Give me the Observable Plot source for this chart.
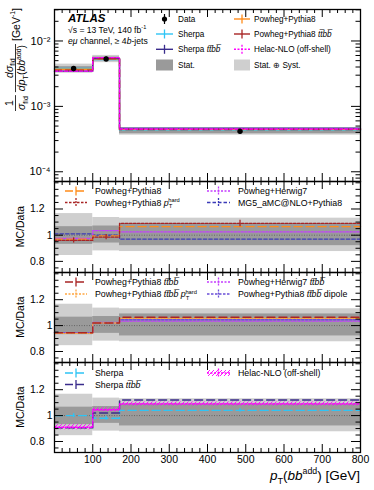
<!DOCTYPE html>
<html><head><meta charset="utf-8">
<script src="https://cdn.jsdelivr.net/npm/d3@7"></script>
<script src="https://cdn.jsdelivr.net/npm/@observablehq/plot@0.6"></script>
<style>
body{margin:0;background:#fff}
#chart{position:relative;width:374px;height:490px;overflow:hidden;font-family:"Liberation Sans",Arial,Helvetica,sans-serif;background:#fff}
</style></head><body><div id="chart"></div>
<script>
// ---------- data ----------
const binEdges = [0, 100, 170, 800];
const binCenters = [50, 135, 485];
const xTickLabels = [100, 200, 300, 400, 500, 600, 700, 800];
const logTicks = [1e-4, 1e-3, 1e-2];
const ratioTicks = [0.8, 1, 1.2];

// top panel: normalised differential cross-section [GeV^-1]
const dataXsec = [3.8e-3, 5.3e-3, 4.15e-4];
const topPowhegPythia8 = [3.69e-3, 5.28e-3, 4.42e-4];
const topSherpa = [3.80e-3, 5.20e-3, 4.32e-4];
const topPowhegPythia8ttbb = [3.59e-3, 5.41e-3, 4.42e-4];
const topSherpattbb = [3.46e-3, 5.41e-3, 4.65e-4];
const topHelac = [3.46e-3, 5.56e-3, 4.52e-4];

// relative uncertainty bands (MC/Data = 1)
const statLo = [0.93, 0.94, 0.92];
const statHi = [1.065, 1.07, 1.09];
const totLo = [0.845, 0.88, 0.875];
const totHi = [1.165, 1.135, 1.13];

// ratio panel 2
const rPowhegPythia8 = [0.97, 0.995, 1.065];
const rPowhegPythia8pThard = [0.96, 0.985, 1.09];
const rPowhegHerwig7 = [0.975, 1.035, 1.025];
const rMG5 = [1.01, 1.0, 0.97];
const errPThard = [0.02, 0.02, 0.025];

// ratio panel 3
const rPP8ttbb = [0.945, 1.02, 1.065];
const rPP8ttbbPThard = [0.94, 1.02, 1.055];
const rPH7ttbb = [0.945, 1.025, 1.035];
const rPP8ttbbDipole = [0.945, 1.02, 1.045];

// ratio panel 4
const rSherpa = [1.0, 0.98, 1.04];
const errSherpa = [0.015, 0.015, 0.012];
const rSherpattbb = [0.905, 1.02, 1.12];
const rHelac = [0.91, 1.045, 1.09];
const helacBandLo = [0.89, 1.03, 1.075];
const helacBandHi = [0.93, 1.06, 1.105];

// ---------- colours ----------
const C = {
  orange: "#ff8c1a", dred: "#a82424", cyan: "#2ec4f5", indigo: "#3a2c8c",
  magenta: "#ff00ff", violet: "#c43cff", navy: "#3b3bb8", lorange: "#ffa640",
  dipole: "#6a4fd8", stat: "#9a9a9a", tot: "#cfcfcf"
};
const FONT = '"Liberation Sans", Arial, Helvetica, sans-serif';
const W = 374, ML = 54, MR = 14, IW = W - ML - MR;
const chart = document.getElementById("chart");

// hatch pattern defs
const defs = d3.select(chart).append("svg").attr("width", 0).attr("height", 0)
  .style("position", "absolute").append("defs");
const pat = defs.append("pattern").attr("id", "hatchMag").attr("patternUnits", "userSpaceOnUse")
  .attr("width", 4).attr("height", 4);
pat.append("path").attr("d", "M-1,1 l2,-2 M0,4 l4,-4 M3,5 l2,-2").attr("stroke", C.magenta).attr("stroke-width", 0.9);

// ---------- helpers ----------
function stepPts(vals) { return binEdges.map((e, i) => ({x: e, y: vals[Math.min(i, vals.length - 1)]})); }
function stepLine(vals, o) { return Plot.line(stepPts(vals), {x: "x", y: "y", curve: "step-after", ...o}); }
function bins(lo, hi) { return binCenters.map((c, i) => ({x1: binEdges[i], x2: binEdges[i + 1], y1: lo[i], y2: hi[i]})); }
function band(lo, hi, fill) { return Plot.rect(bins(lo, hi), {x1: "x1", x2: "x2", y1: "y1", y2: "y2", fill}); }
function errBars(vals, err, stroke) {
  return Plot.ruleX(binCenters.map((c, i) => ({x: c, y1: vals[i] - err[i], y2: vals[i] + err[i]})),
    {x: "x", y1: "y1", y2: "y2", stroke, strokeWidth: 1.3});
}
function frameTicks(innerH, yMajor, yMinor) {
  const xMaj = d3.range(0, 801, 100), xMin = d3.range(0, 801, 20).filter(v => v % 100);
  const k = {stroke: "#000", strokeWidth: 1};
  return [
    Plot.tickX(xMaj, {x: d => d, insetTop: innerH - 8, ...k}),
    Plot.tickX(xMaj, {x: d => d, insetBottom: innerH - 8, ...k}),
    Plot.tickX(xMin, {x: d => d, insetTop: innerH - 4, ...k}),
    Plot.tickX(xMin, {x: d => d, insetBottom: innerH - 4, ...k}),
    Plot.tickY(yMajor, {y: d => d, insetRight: IW - 9, ...k}),
    Plot.tickY(yMajor, {y: d => d, insetLeft: IW - 9, ...k}),
    Plot.tickY(yMinor, {y: d => d, insetRight: IW - 4.5, ...k}),
    Plot.tickY(yMinor, {y: d => d, insetLeft: IW - 4.5, ...k}),
    Plot.frame({stroke: "#000", strokeWidth: 1.3})
  ];
}
function panel({top, height, mt = 0, mb = 0, y, marks}) {
  const p = Plot.plot({
    width: W, height, marginLeft: ML, marginRight: MR, marginTop: mt, marginBottom: mb,
    style: {background: "transparent", overflow: "visible", fontFamily: FONT, fontSize: "10.5px", color: "#000"},
    x: {domain: [0, 800], axis: null},
    y: {...y, axis: null},
    marks
  });
  p.style.position = "absolute"; p.style.left = "0px"; p.style.top = top + "px";
  chart.append(p);
  return p;
}
const supDigits = {"-": "⁻", "0": "⁰", "1": "¹", "2": "²", "3": "³", "4": "⁴", "5": "⁵"};
const logFmt = d => "10" + String(Math.round(Math.log10(d))).split("").map(c => supDigits[c]).join("");

// ---------- top panel ----------
const logMinor = [];
for (let e = -5; e <= -2; e++) for (let m = 2; m <= 9; m++) { const v = m * 10 ** e; if (v > 7.1e-5 && v < 0.0303) logMinor.push(v); }
panel({
  top: 0, height: 181, mt: 9, mb: 0,
  y: {type: "log", domain: [7.1e-5, 0.0303]},
  marks: [
    band(dataXsec.map((d, i) => d * totLo[i]), dataXsec.map((d, i) => d * totHi[i]), C.tot),
    band(dataXsec.map((d, i) => d * statLo[i]), dataXsec.map((d, i) => d * statHi[i]), C.stat),
    stepLine(topSherpa, {stroke: C.cyan, strokeWidth: 1.4}),
    stepLine(topPowhegPythia8, {stroke: C.orange, strokeWidth: 1.4}),
    stepLine(topSherpattbb, {stroke: C.indigo, strokeWidth: 1.4}),
    stepLine(topPowhegPythia8ttbb, {stroke: C.dred, strokeWidth: 1.4, strokeDasharray: "7,4"}),
    stepLine(topHelac, {stroke: C.magenta, strokeWidth: 1.4, strokeDasharray: "3,2"}),
    Plot.ruleX(binCenters.map((c, i) => ({x: c, y1: dataXsec[i] * statLo[i], y2: dataXsec[i] * statHi[i]})), {x: "x", y1: "y1", y2: "y2", stroke: "#000", strokeWidth: 1.2}),
    Plot.dot(binCenters.map((c, i) => ({x: c, y: dataXsec[i]})), {x: "x", y: "y", r: 2.7, fill: "#000", stroke: "none"}),
    ...frameTicks(172, logTicks, logMinor),
    Plot.axisY(logTicks, {tickSize: 0, tickPadding: 4, tickFormat: logFmt, fontSize: 11})
  ]
});

// ---------- ratio panels ----------
const ratioDomain = [0.715, 1.41];
const ratioMinor = d3.range(0.75, 1.41, 0.05).map(v => +v.toFixed(2)).filter(v => !ratioTicks.includes(v));
function ratioBase() {
  return [
    band(totLo, totHi, C.tot),
    band(statLo, statHi, C.stat),
    Plot.ruleY([1], {stroke: "#666", strokeDasharray: "1,1.5", strokeWidth: 1})
  ];
}
function ratioAxes(innerH) {
  return [
    ...frameTicks(innerH, ratioTicks, ratioMinor),
    Plot.axisY([0.8, 1.2], {tickSize: 0, tickPadding: 10, tickFormat: d => String(d), fontSize: 10.5}),
    Plot.axisY([1], {tickSize: 0, tickPadding: 2, tickFormat: d => String(d), fontSize: 10.5})
  ];
}
panel({
  top: 181, height: 91, y: {domain: ratioDomain},
  marks: [
    ...ratioBase(),
    stepLine(rMG5, {stroke: C.navy, strokeWidth: 1.3, strokeDasharray: "3.5,2"}),
    stepLine(rPowhegHerwig7, {stroke: C.violet, strokeWidth: 1.3, strokeDasharray: "2,1.5"}),
    stepLine(rPowhegPythia8, {stroke: C.orange, strokeWidth: 1.4, strokeDasharray: "8,4"}),
    stepLine(rPowhegPythia8pThard, {stroke: C.dred, strokeWidth: 1.3, strokeDasharray: "2.5,1.5"}),
    errBars(rPowhegPythia8pThard, errPThard, C.dred),
    ...ratioAxes(91)
  ]
});
panel({
  top: 272, height: 90, y: {domain: ratioDomain},
  marks: [
    ...ratioBase(),
    stepLine(rPH7ttbb, {stroke: C.violet, strokeWidth: 1.3, strokeDasharray: "2,1.5"}),
    stepLine(rPP8ttbbDipole, {stroke: C.dipole, strokeWidth: 1.3, strokeDasharray: "2.5,1.5"}),
    stepLine(rPP8ttbbPThard, {stroke: C.lorange, strokeWidth: 1.3, strokeDasharray: "2,1.5"}),
    stepLine(rPP8ttbb, {stroke: C.dred, strokeWidth: 1.4, strokeDasharray: "8,4"}),
    ...ratioAxes(90)
  ]
});
panel({
  top: 362, height: 128, mb: 38, y: {domain: ratioDomain},
  marks: [
    ...ratioBase(),
    band(helacBandLo, helacBandHi, "url(#hatchMag)"),
    stepLine(rSherpa, {stroke: C.cyan, strokeWidth: 1.4, strokeDasharray: "8,4"}),
    errBars(rSherpa, errSherpa, C.cyan),
    stepLine(rSherpattbb, {stroke: C.indigo, strokeWidth: 1.4, strokeDasharray: "8,4"}),
    stepLine(rHelac, {stroke: C.magenta, strokeWidth: 1.3, strokeDasharray: "2,1.5"}),
    ...ratioAxes(90),
    Plot.axisX(xTickLabels, {tickSize: 0, tickPadding: 3, fontSize: 10.5, tickFormat: d => String(d)})
  ]
});

// ---------- overlay: legends and titles ----------
const ov = d3.select(chart).append("svg").attr("width", W).attr("height", 490)
  .style("position", "absolute").style("left", 0).style("top", 0)
  .attr("font-family", FONT);

function richText(g, x, y, segs, size, anchor = "start") {
  const t = g.append("text").attr("x", x).attr("y", y).attr("font-size", size).attr("text-anchor", anchor);
  let cur = 0;
  for (const s of segs) {
    const o = typeof s === "string" ? {t: s} : s;
    let shift = 0, fs = size;
    if (o.sub) { shift = 0.28 * size; fs = 0.68 * size; }
    if (o.sup) { shift = -0.42 * size; fs = 0.65 * size; }
    const ts = t.append("tspan").text(o.t).attr("font-size", fs).attr("dy", shift - cur);
    if (o.dx) ts.attr("dx", o.dx);
    if (o.i) ts.attr("font-style", "italic");
    if (o.b) ts.attr("font-weight", "bold");
    cur = shift;
  }
  return t;
}
const ttbb = {t: "tt\u0305bb\u0305", i: true};

function lineSwatch(x0, x1, y, stroke, dash, tickDash) {
  ov.append("line").attr("x1", x0).attr("x2", x1).attr("y1", y).attr("y2", y)
    .attr("stroke", stroke).attr("stroke-width", 1.4).attr("stroke-dasharray", dash || null);
  const xm = (x0 + x1) / 2;
  ov.append("line").attr("x1", xm).attr("x2", xm).attr("y1", y - 4.5).attr("y2", y + 4.5)
    .attr("stroke", stroke).attr("stroke-width", 1.3).attr("stroke-dasharray", tickDash || null);
}

// top legend
{
  const c1 = [156, 173, 178], c2 = [234, 250, 254], rows = [19, 34, 49.3, 65];
  const fs = 8.2;
  ov.append("line").attr("x1", 164.5).attr("x2", 164.5).attr("y1", rows[0] - 5).attr("y2", rows[0] + 5).attr("stroke", "#000").attr("stroke-width", 1.2);
  ov.append("circle").attr("cx", 164.5).attr("cy", rows[0]).attr("r", 2.6).attr("fill", "#000");
  richText(ov, c1[2], rows[0] + 3, ["Data"], fs);
  lineSwatch(c1[0], c1[1], rows[1], C.cyan);
  richText(ov, c1[2], rows[1] + 3, ["Sherpa"], fs);
  lineSwatch(c1[0], c1[1], rows[2], C.indigo);
  richText(ov, c1[2], rows[2] + 3, ["Sherpa ", ttbb], fs);
  ov.append("rect").attr("x", c1[0]).attr("y", rows[3] - 5.5).attr("width", c1[1] - c1[0]).attr("height", 11).attr("fill", C.stat);
  richText(ov, c1[2], rows[3] + 3, ["Stat."], fs);
  lineSwatch(c2[0], c2[1], rows[0], C.orange);
  richText(ov, c2[2], rows[0] + 3, ["Powheg+Pythia8"], fs);
  lineSwatch(c2[0], c2[1], rows[1], C.dred);
  richText(ov, c2[2], rows[1] + 3, ["Powheg+Pythia8 ", ttbb], fs);
  lineSwatch(c2[0], c2[1], rows[2], C.magenta, "2,1.5", "2,1.5");
  richText(ov, c2[2], rows[2] + 3, ["Helac-NLO (off-shell)"], fs);
  ov.append("rect").attr("x", c2[0]).attr("y", rows[3] - 5.5).attr("width", c2[1] - c2[0]).attr("height", 11).attr("fill", C.tot);
  richText(ov, c2[2], rows[3] + 3, ["Stat. \u2295 Syst."], fs);
}

// ATLAS label
richText(ov, 68, 21.5, [{t: "ATLAS", b: true, i: true}], 11.5);
richText(ov, 68, 32.5, ["\u221As = 13 TeV, 140 fb", {t: "-1", sup: true}], 8.6);
richText(ov, 68, 43.5, [{t: "e\u03BC", i: true}, " channel, \u2265 4", {t: "b", i: true}, "-jets"], 8.6);

// ratio legends
function ratioLegend(rows, items) {
  const cols = [[65, 87, 95], [207, 230, 238]];
  const fs = 8.8;
  for (const it of items) {
    const [x0, x1, tx] = cols[it.col];
    const y = rows[it.row];
    if (it.hatch) {
      ov.append("rect").attr("x", x0).attr("y", y - 3).attr("width", x1 - x0).attr("height", 6).attr("fill", "url(#hatchMag)");
    }
    lineSwatch(x0, x1, y, it.stroke, it.dash, it.tickDash);
    richText(ov, tx, y + 3.2, it.label, fs);
  }
}
const pThard = [{t: "p", i: true}, {t: "T", sub: true}, {t: "hard", sup: true, dx: -4}];
ratioLegend([191, 202.5], [
  {col: 0, row: 0, stroke: C.orange, dash: "8,3", label: ["Powheg+Pythia8"]},
  {col: 0, row: 1, stroke: C.dred, dash: "2.5,1.5", tickDash: "2,1", label: ["Powheg+Pythia8 ", ...pThard]},
  {col: 1, row: 0, stroke: C.violet, dash: "2,1.5", tickDash: "2,1", label: ["Powheg+Herwig7"]},
  {col: 1, row: 1, stroke: C.navy, dash: "3.5,2", tickDash: "2,1", label: ["MG5_aMC@NLO+Pythia8"]}
]);
ratioLegend([282, 294], [
  {col: 0, row: 0, stroke: C.dred, dash: "8,3", label: ["Powheg+Pythia8 ", ttbb]},
  {col: 0, row: 1, stroke: C.lorange, dash: "2,1.5", tickDash: "2,1", label: ["Powheg+Pythia8 ", ttbb, " ", ...pThard]},
  {col: 1, row: 0, stroke: C.violet, dash: "2,1.5", tickDash: "2,1", label: ["Powheg+Herwig7 ", ttbb]},
  {col: 1, row: 1, stroke: C.dipole, dash: "2.5,1.5", tickDash: "2,1", label: ["Powheg+Pythia8 ", ttbb, " dipole"]}
]);
ratioLegend([373, 384.5], [
  {col: 0, row: 0, stroke: C.cyan, dash: "8,3", label: ["Sherpa"]},
  {col: 0, row: 1, stroke: C.indigo, dash: "8,3", label: ["Sherpa ", ttbb]},
  {col: 1, row: 0, stroke: C.magenta, dash: "2,1.5", tickDash: "2,1", hatch: true, label: ["Helac-NLO (off-shell)"]}
]);

// MC/Data titles
for (const cy of [226.5, 317, 407]) {
  ov.append("text").attr("transform", `translate(24,${cy}) rotate(-90)`).attr("text-anchor", "middle")
    .attr("font-size", 10.5).text("MC/Data");
}

// x title
richText(ov, 360, 480, [{t: "p", i: true}, {t: "T", sub: true}, "(", {t: "bb", i: true}, {t: "add", sup: true}, ") [GeV]"], 13.5, "end");

// top y title (rotated, top-aligned fraction)
{
  const fs = 10.5;
  const g = ov.append("g").attr("transform", "translate(0,111) rotate(-90)");
  // fraction 1/sigma_fid
  const den1 = richText(g, 0, 25, [{t: "\u03C3", i: true}, {t: "fid", sub: true}], fs, "middle");
  const w1 = den1.node().getComputedTextLength();
  den1.attr("x", w1 / 2 + 1);
  richText(g, w1 / 2 + 1, 12.5, ["1"], fs, "middle");
  g.append("line").attr("x1", 0).attr("x2", w1 + 2).attr("y1", 15.5).attr("y2", 15.5).attr("stroke", "#000").attr("stroke-width", 0.8);
  // fraction d sigma / d pT
  const s2 = w1 + 5;
  const den2 = richText(g, 0, 25, [{t: "dp", i: true}, {t: "T", sub: true}, "(", {t: "bb", i: true}, {t: "add", sup: true}, ")"], fs, "middle");
  const w2 = den2.node().getComputedTextLength();
  den2.attr("x", s2 + w2 / 2 + 1);
  richText(g, s2 + w2 / 2 + 1, 12.5, [{t: "d\u03C3", i: true}, {t: "fid", sub: true}], fs, "middle");
  g.append("line").attr("x1", s2).attr("x2", s2 + w2 + 2).attr("y1", 15.5).attr("y2", 15.5).attr("stroke", "#000").attr("stroke-width", 0.8);
  richText(g, s2 + w2 + 5, 19.5, ["[GeV", {t: "-1", sup: true}, "]"], fs);
}
</script></body></html>
